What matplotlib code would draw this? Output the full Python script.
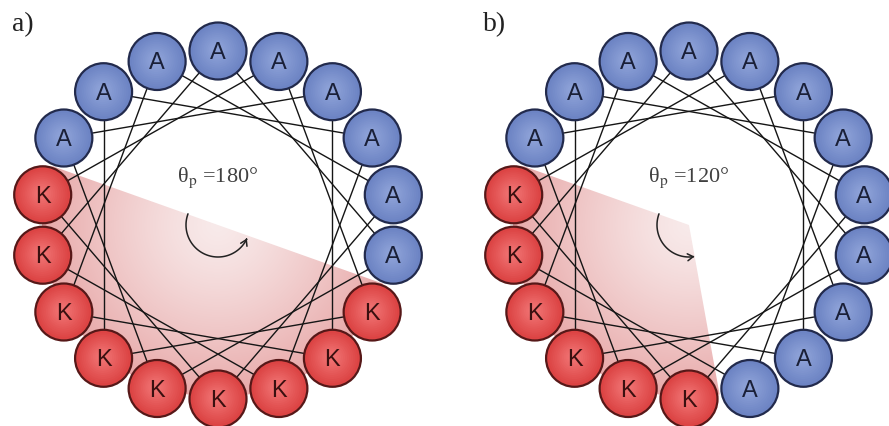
import numpy as np
import matplotlib
matplotlib.use("Agg")
import matplotlib.pyplot as plt
from matplotlib.patches import Circle, Wedge, FancyArrowPatch, Polygon
import matplotlib.colors as mcolors

plt.rcParams['mathtext.fontset'] = 'stix'

# ---- data ----
panel_labels = ["a)", "b)"]
# residue label at each wheel position, clockwise from top (20 deg apart)
wheel_a = list("AAAAAA" + "K" * 9 + "AAA")
wheel_b = list("A" * 9 + "K" * 6 + "AAA")
wheels = [wheel_a, wheel_b]
polar_angles = [180, 120]            # theta_p in degrees
polar_start = [160, 160]             # start of polar sector (deg, math convention)
step_deg = 100                       # helix rotation per residue
n_res = 18

# ---- layout/style ----
W, H = 889, 427
centers = [(218, 226), (689, 226)]
Rx, Ry = 178, 174
r_c = 28.5
blue_edge, blue_in, blue_out = "#222a4c", "#8ea2d8", "#6d84c4"
red_edge, red_in, red_out = "#561818", "#f07272", "#dc4444"

fig = plt.figure(figsize=(W / 100, H / 100), dpi=100)
ax = fig.add_axes([0, 0, 1, 1])
ax.set_xlim(0, W)
ax.set_ylim(H, 0)
ax.axis("off")


def pos(cx, cy, ang, rx, ry=None):
    if ry is None:
        ry = rx
    a = np.deg2rad(ang)
    return cx + rx * np.cos(a), cy - ry * np.sin(a)


# radial gradient image for sector
gx = np.linspace(-1, 1, 300)
GX, GY = np.meshgrid(gx, gx)
GR = np.clip(np.sqrt(GX ** 2 + GY ** 2), 0, 1)
c0 = np.array(mcolors.to_rgb("#f8eaea"))
c1 = np.array(mcolors.to_rgb("#e8a8a8"))
wgt = GR[..., None] ** 1.3
grad = c0[None, None, :] * (1 - wgt) + c1[None, None, :] * wgt

for k, (cx, cy) in enumerate(centers):
    wheel = wheels[k]
    # shaded polar sector
    ts = np.linspace(polar_start[k], polar_start[k] + polar_angles[k], 100)
    px, py = pos(cx, cy, ts, Rx - 2, Ry - 2)
    sector = Polygon(np.column_stack([np.r_[cx, px], np.r_[cy, py]]), closed=True,
                     facecolor="none", edgecolor="none")
    ax.add_patch(sector)
    im = ax.imshow(grad, extent=[cx - Rx, cx + Rx, cy + Ry, cy - Ry], zorder=1,
                   interpolation="bilinear", aspect="auto")
    im.set_clip_path(sector)

    # chords between consecutive residues
    angs = [90 - step_deg * i for i in range(n_res + 1)]
    for i in range(n_res):
        x1, y1 = pos(cx, cy, angs[i], Rx, Ry)
        x2, y2 = pos(cx, cy, angs[i + 1], Rx, Ry)
        ax.plot([x1, x2], [y1, y2], color="#151515", lw=1.0, zorder=2)

    # residues
    for j, lab in enumerate(wheel):
        ang = 90 - 20 * j
        x, y = pos(cx, cy, ang, Rx, Ry)
        if lab == "A":
            ec, cin, cout, tc = blue_edge, blue_in, blue_out, "#1a2038"
        else:
            ec, cin, cout, tc = red_edge, red_in, red_out, "#3a1010"
        ax.add_patch(Circle((x, y), r_c, facecolor=cout, edgecolor=ec, lw=1.6, zorder=3))
        n = 12
        for s in range(1, n):
            f = s / n
            col = np.array(mcolors.to_rgb(cout)) * (1 - f) + np.array(mcolors.to_rgb(cin)) * f
            ax.add_patch(Circle((x - 1.5 * f, y - 1.5 * f), (r_c - 1.5) * (1 - f * 0.85),
                                facecolor=col, edgecolor="none", zorder=3))
        ax.text(x, y + 1, lab, ha="center", va="center", fontsize=17,
                family="Liberation Sans", color=tc, zorder=4)

    # angle text
    ax.text(cx, cy - 48, "θ" + r"$_\mathrm{p}$" + f" ={polar_angles[k]}°",
            ha="center", va="center", fontsize=16, family="Liberation Serif",
            color="#404040", zorder=5)

    # arc arrow
    ra = 32
    a_end = polar_start[k] + polar_angles[k]
    ts = np.linspace(polar_start[k], a_end, 80)
    xs, ys = pos(cx, cy, ts, ra)
    ax.plot(xs[:-3], ys[:-3], color="#222222", lw=1.1, zorder=5)
    ax.add_patch(FancyArrowPatch((xs[-6], ys[-6]), (xs[-1], ys[-1]),
                                 arrowstyle="->,head_length=4,head_width=2.5",
                                 color="#222222", lw=1.1, zorder=5))

    # panel label
    ax.text(cx - 206, 25, panel_labels[k], ha="left", va="center", fontsize=20,
            family="Liberation Serif", color="#222222")

fig.savefig("out.png", dpi=100)
